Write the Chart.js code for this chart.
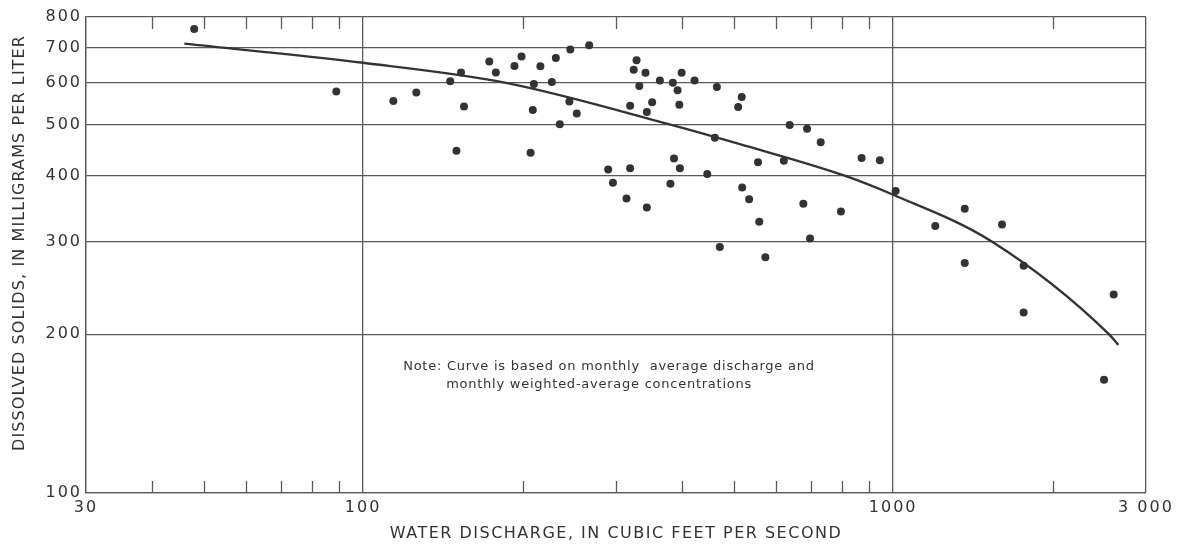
<!DOCTYPE html>
<html>
<head>
<meta charset="utf-8">
<title>Dissolved solids vs water discharge</title>
<script src="https://cdn.jsdelivr.net/npm/chart.js@4.4.1/dist/chart.umd.min.js"></script>
<style>
  html, body { margin: 0; padding: 0; background: #fff; }
  #wrap { width: 1180px; height: 544px; }
</style>
</head>
<body>
<div id="wrap"><canvas id="grafico" width="1180" height="544"></canvas></div>
<script>
// monthly samples
const discharge = [
  48, 89, 114, 126, 146, 153, 155, 150, 173, 178,
  193, 199, 216, 210, 209, 207, 231, 227, 246, 267,
  245, 253, 235, 290, 296, 314, 319, 319, 324, 328,
  332, 341, 343, 351, 343, 363, 384, 392, 399, 395,
  386, 396, 380, 422, 465, 461, 446, 471, 518, 510,
  556, 519, 535, 559, 574, 638, 622, 688, 730, 872,
  944, 677, 797, 697, 1011, 1365, 1201, 1605, 1365, 1763,
  2607, 1763, 2500
];
const solids = [
  759, 578, 554, 575, 604, 628, 541, 446, 659, 628,
  646, 673, 645, 597, 533, 442, 669, 602, 694, 707,
  553, 525, 501, 411, 388, 362, 413, 543, 635, 662,
  592, 627, 528, 551, 348, 606, 600, 581, 627, 545,
  431, 413, 386, 606, 589, 472, 403, 293, 564, 540,
  424, 380, 361, 327, 280, 499, 427, 491, 463, 432,
  428, 354, 342, 304, 374, 346, 321, 323, 273, 270,
  238, 220, 164
];

// fitted curve
const curveDischarge = [46, 100, 186, 380, 514, 810, 1000, 1535, 2556, 2660];
const curveSolids    = [712, 655, 600, 500, 459, 400, 368, 300, 200, 191];

const xTicks      = [30, 100, 1000, 3000];
const xTickLabels = ['30', '100', '1000', '3 000'];
const yTicks      = [100, 200, 300, 400, 500, 600, 700, 800];
const xMinorTicks = [40, 50, 60, 70, 80, 90, 200, 300, 400, 500, 600, 700, 800, 900, 2000];

const xTitle = 'WATER DISCHARGE, IN CUBIC FEET PER SECOND';
const yTitle = 'DISSOLVED SOLIDS, IN MILLIGRAMS PER LITER';
const noteLines = [
  'Note: Curve is based on monthly  average discharge and',
  'monthly weighted-average concentrations'
];

const INK = '#333333';
const GRID = '#5a5a5a';
const FONT = "'DejaVu Sans', 'Liberation Sans', sans-serif";

function toPoints(xs, ys) {
  return xs.map((x, i) => ({ x: x, y: ys[i] }));
}

// wide lettering for tick labels
const spacing = {
  id: 'spacing',
  beforeDraw(chart) { chart.ctx.letterSpacing = '2px'; }
};

// short inward ticks on top and bottom edges
const minorTicks = {
  id: 'minorTicks',
  afterDatasetsDraw(chart) {
    const { ctx, chartArea: a, scales: { x } } = chart;
    ctx.save();
    ctx.strokeStyle = GRID;
    ctx.lineWidth = 1.3;
    ctx.beginPath();
    for (const v of xMinorTicks) {
      const px = Math.round(x.getPixelForValue(v)) + 0.5;
      ctx.moveTo(px, a.top);
      ctx.lineTo(px, a.top + 12);
      ctx.moveTo(px, a.bottom);
      ctx.lineTo(px, a.bottom - 12);
    }
    ctx.stroke();
    ctx.restore();
  }
};

// axis titles + note
const labels = {
  id: 'labels',
  afterDraw(chart) {
    const { ctx, chartArea: a, scales: { x, y } } = chart;
    ctx.save();
    ctx.fillStyle = INK;
    ctx.textBaseline = 'middle';

    ctx.font = '16px ' + FONT;
    ctx.letterSpacing = '1.5px';
    ctx.textAlign = 'center';
    ctx.fillText(xTitle, (a.left + a.right) / 2, a.bottom + 41);

    ctx.letterSpacing = '1.1px';
    ctx.save();
    ctx.translate(20, (a.top + a.bottom) / 2 - 12);
    ctx.rotate(-Math.PI / 2);
    ctx.fillText(yTitle, 0, 0);
    ctx.restore();

    ctx.font = '13px ' + FONT;
    ctx.letterSpacing = '0.75px';
    ctx.textAlign = 'left';
    const left = x.getPixelForValue(119);
    const top = y.getPixelForValue(174);
    ctx.fillText(noteLines[0], left, top);
    ctx.fillText(noteLines[1], left + 43, top + 18);
    ctx.restore();
  }
};

new Chart(document.getElementById('grafico'), {
  type: 'scatter',
  data: {
    datasets: [
      {
        label: 'Curve',
        data: toPoints(curveDischarge, curveSolids),
        showLine: true,
        borderColor: INK,
        borderWidth: 2.4,
        pointRadius: 0,
        cubicInterpolationMode: 'monotone',
        fill: false
      },
      {
        label: 'Monthly',
        data: toPoints(discharge, solids),
        pointRadius: 4,
        pointBackgroundColor: INK,
        pointBorderWidth: 0,
        showLine: false
      }
    ]
  },
  options: {
    responsive: false,
    animation: false,
    layout: { padding: { left: 0, right: 34, top: 17, bottom: 0 } },
    plugins: { legend: { display: false }, tooltip: { enabled: false } },
    scales: {
      x: {
        type: 'logarithmic',
        min: 30,
        max: 3000,
        afterBuildTicks: (s) => { s.ticks = xTicks.map(v => ({ value: v })); },
        afterFit: (s) => { s.height = 51; },
        ticks: {
          autoSkip: false,
          maxRotation: 0,
          padding: 5,
          color: INK,
          font: { family: FONT, size: 16 },
          callback: (v, i) => xTickLabels[i]
        },
        grid: { color: GRID, lineWidth: 1.3, drawTicks: false },
        border: { display: true, color: GRID, width: 1.3 }
      },
      y: {
        type: 'logarithmic',
        min: 100,
        max: 800,
        afterBuildTicks: (s) => { s.ticks = yTicks.map(v => ({ value: v })); },
        afterFit: (s) => { s.width = 86; },
        ticks: {
          autoSkip: false,
          padding: 4,
          color: INK,
          font: { family: FONT, size: 16 },
          callback: (v) => String(v)
        },
        grid: { color: GRID, lineWidth: 1.3, drawTicks: false },
        border: { display: true, color: GRID, width: 1.3 }
      }
    }
  },
  plugins: [spacing, minorTicks, labels]
});
</script>
</body>
</html>
